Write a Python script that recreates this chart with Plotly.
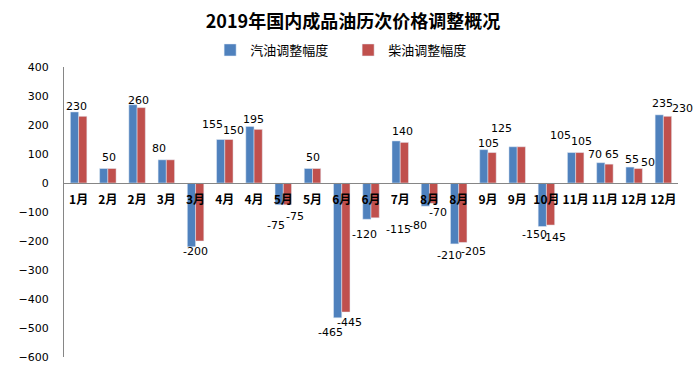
import plotly.graph_objects as go

categories = ['1月', '2月', '2月', '3月', '3月', '4月', '4月', '5月', '5月', '6月', '6月',
              '7月', '8月', '8月', '9月', '9月', '10月', '11月', '11月', '12月', '12月']
gasoline = [245, 50, 270, 80, -220, 150, 195, -75, 50, -465, -125,
            145, -80, -210, 115, 125, -150, 105, 70, 55, 235]
diesel = [230, 50, 260, 80, -200, 150, 185, -75, 50, -445, -120,
          140, -70, -205, 105, 125, -145, 105, 65, 50, 230]
gasoline_labels = ['230', '50', '260', '80', '-200', '155', '195', '-75', '50', '-465', '-120',
                   '140', '-80', '-210', '105', '125', '-150', '105', '70', '55', '235']
diesel_labels = ['', '', '', '', '', '150', '', '-75', '', '-445', '',
                 '', '-70', '-205', '', '', '-145', '105', '65', '50', '230']
extra_labels = ['', '', '', '', '', '', '', '', '', '', '',
                '-115', '', '', '', '', '', '', '', '', '']
y_ticks = [400, 300, 200, 100, 0, -100, -200, -300, -400, -500, -600]

BLUE = '#4F81BD'
RED = '#C0504D'
idx = list(range(len(categories)))

fig = go.Figure()
fig.add_trace(go.Bar(x=idx, y=gasoline, name='汽油调整幅度', marker_color=BLUE))
fig.add_trace(go.Bar(x=idx, y=diesel, name='柴油调整幅度', marker_color=RED))

# label placement offsets (px) relative to category centre and bar end
gas_off = {0: (-2, -5), 1: (1, -11), 2: (1, -4), 3: (-7, -11), 4: (0, 5), 5: (-12.5, -15),
           6: (-1, -7), 7: (-7, 21), 8: (0, -11), 9: (-11, 15), 10: (-7, 15), 11: (2, -9),
           12: (-11, 19.5), 13: (-9, 12), 14: (1, -6.5), 15: (-15.5, -18), 16: (-12, 8),
           17: (-14.7, -17), 18: (-10, -8), 19: (-2, -8), 20: (-1, -11.7)}
die_off = {5: (8.5, -9), 7: (12, 11.6), 9: (8, 10), 12: (9, 9), 13: (15, 9), 16: (7, 12),
           17: (6, -11), 18: (6.7, -9.4), 19: (14, -6.5), 20: (19, -8)}
extra_off = {11: (-2, 13)}

lab_font = dict(family='DejaVu Sans', size=11, color='#000000')
anns = []
for i in idx:
    if gasoline_labels[i]:
        dx, dy = gas_off.get(i, (0, -8))
        anns.append(dict(x=i, y=gasoline[i], text=gasoline_labels[i], showarrow=False,
                         xanchor='center', yanchor='middle', xshift=dx, yshift=-dy, font=lab_font))
    if diesel_labels[i]:
        dx, dy = die_off.get(i, (0, -8))
        anns.append(dict(x=i, y=diesel[i], text=diesel_labels[i], showarrow=False,
                         xanchor='center', yanchor='middle', xshift=dx, yshift=-dy, font=lab_font))
    if extra_labels[i]:
        dx, dy = extra_off.get(i, (0, 0))
        anns.append(dict(x=i, y=float(extra_labels[i]), text=extra_labels[i], showarrow=False,
                         xanchor='center', yanchor='middle', xshift=dx, yshift=-dy, font=lab_font))

ymin, ymax = -600, 400
fig.update_layout(
    width=699, height=377,
    margin=dict(l=64, r=21, t=67, b=20, autoexpand=False),
    paper_bgcolor='white', plot_bgcolor='white',
    barmode='group', bargap=0.436, bargroupgap=0,
    title=dict(text='<b>2019年国内成品油历次价格调整概况</b>', x=0.505, xanchor='center',
               y=1 - 22 / 377, yref='container', yanchor='middle',
               font=dict(family='Noto Sans CJK SC', size=18, color='#000000')),
    legend=dict(orientation='h', x=0.238, xanchor='left', y=1.0586, yanchor='middle',
                entrywidth=93, entrywidthmode='pixels',
                font=dict(family='Noto Sans CJK SC', size=13, color='#000000'),
                bgcolor='rgba(0,0,0,0)'),
    xaxis=dict(range=[-0.5, len(categories) - 0.5], tickmode='array', tickvals=idx,
               ticktext=['<b>' + c + '</b>' for c in categories],
               anchor='free', position=(0 - ymin) / (ymax - ymin),
               showline=True, linecolor='#868686', linewidth=1, ticks='',
               showgrid=False, zeroline=False, ticklabelstandoff=6,
               tickfont=dict(family='Noto Sans CJK SC', size=12, color='#000000')),
    yaxis=dict(range=[ymin, ymax], tickmode='array', tickvals=y_ticks,
               showline=True, linecolor='#868686', linewidth=1, ticks='',
               showgrid=False, zeroline=False, ticklabelstandoff=12,
               tickfont=dict(family='DejaVu Sans', size=11, color='#000000')),
    annotations=anns,
)
fig.write_html('out.html', config={'displayModeBar': False},
               post_script="document.body.style.margin='0';document.body.style.padding='0';")
